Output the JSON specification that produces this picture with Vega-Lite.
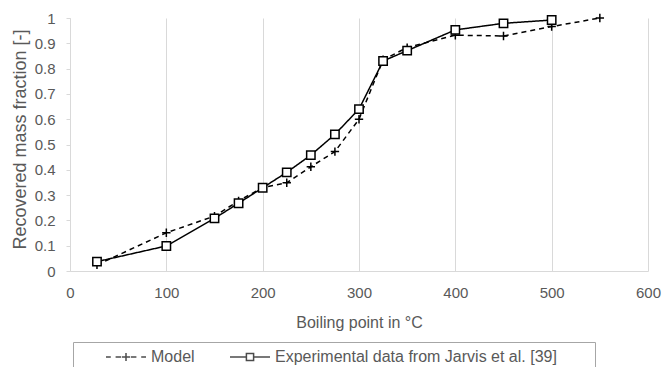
{
  "$schema": "https://vega.github.io/schema/vega-lite/v6.json",
  "width": 578,
  "height": 253,
  "autosize": {"type": "none"},
  "padding": {"left": 70, "top": 18, "right": 15, "bottom": 96},
  "background": "white",
  "config": {
    "font": "Liberation Sans",
    "view": {"stroke": null}
  },
  "data": {
    "values": [
      {"series": "Model", "boiling_point": 28, "fraction": 0.024},
      {"series": "Model", "boiling_point": 100, "fraction": 0.151},
      {"series": "Model", "boiling_point": 150, "fraction": 0.217},
      {"series": "Model", "boiling_point": 175, "fraction": 0.277},
      {"series": "Model", "boiling_point": 200, "fraction": 0.33},
      {"series": "Model", "boiling_point": 225, "fraction": 0.349},
      {"series": "Model", "boiling_point": 250, "fraction": 0.412},
      {"series": "Model", "boiling_point": 275, "fraction": 0.472},
      {"series": "Model", "boiling_point": 300, "fraction": 0.6},
      {"series": "Model", "boiling_point": 325, "fraction": 0.835},
      {"series": "Model", "boiling_point": 350, "fraction": 0.883},
      {"series": "Model", "boiling_point": 400, "fraction": 0.932},
      {"series": "Model", "boiling_point": 450, "fraction": 0.929},
      {"series": "Model", "boiling_point": 500, "fraction": 0.966},
      {"series": "Model", "boiling_point": 550, "fraction": 1.0},
      {"series": "Experimental data from Jarvis et al. [39]", "boiling_point": 28, "fraction": 0.037},
      {"series": "Experimental data from Jarvis et al. [39]", "boiling_point": 100, "fraction": 0.099},
      {"series": "Experimental data from Jarvis et al. [39]", "boiling_point": 150, "fraction": 0.208},
      {"series": "Experimental data from Jarvis et al. [39]", "boiling_point": 175, "fraction": 0.268},
      {"series": "Experimental data from Jarvis et al. [39]", "boiling_point": 200, "fraction": 0.329},
      {"series": "Experimental data from Jarvis et al. [39]", "boiling_point": 225, "fraction": 0.39},
      {"series": "Experimental data from Jarvis et al. [39]", "boiling_point": 250, "fraction": 0.458},
      {"series": "Experimental data from Jarvis et al. [39]", "boiling_point": 275, "fraction": 0.54},
      {"series": "Experimental data from Jarvis et al. [39]", "boiling_point": 300, "fraction": 0.64},
      {"series": "Experimental data from Jarvis et al. [39]", "boiling_point": 325, "fraction": 0.83},
      {"series": "Experimental data from Jarvis et al. [39]", "boiling_point": 350, "fraction": 0.871},
      {"series": "Experimental data from Jarvis et al. [39]", "boiling_point": 400, "fraction": 0.953},
      {"series": "Experimental data from Jarvis et al. [39]", "boiling_point": 450, "fraction": 0.979},
      {"series": "Experimental data from Jarvis et al. [39]", "boiling_point": 500, "fraction": 0.992}
    ]
  },
  "encoding": {
    "x": {
      "field": "boiling_point",
      "type": "quantitative",
      "scale": {"domain": [0, 600], "nice": false, "zero": false},
      "axis": {
        "title": "Boiling point in °C",
        "values": [0, 100, 200, 300, 400, 500, 600],
        "grid": true,
        "gridColor": "#d9d9d9",
        "gridWidth": 1,
        "ticks": false,
        "domainColor": "#d9d9d9",
        "domainWidth": 1,
        "labelFlush": false,
        "labelPadding": 14,
        "labelFontSize": 15,
        "labelColor": "#595959",
        "titleFontSize": 16,
        "titleFontWeight": "normal",
        "titleColor": "#595959",
        "titlePadding": 14
      }
    },
    "y": {
      "field": "fraction",
      "type": "quantitative",
      "scale": {"domain": [0, 1], "nice": false},
      "axis": {
        "title": "Recovered mass fraction [-]",
        "values": [0, 0.1, 0.2, 0.3, 0.4, 0.5, 0.6, 0.7, 0.8, 0.9, 1],
        "format": "~g",
        "grid": false,
        "ticks": true,
        "tickSize": 4,
        "tickColor": "#d9d9d9",
        "domainColor": "#d9d9d9",
        "labelFlush": false,
        "labelPadding": 11,
        "labelFontSize": 15,
        "labelColor": "#595959",
        "titleFontSize": 18,
        "titleFontWeight": "normal",
        "titleColor": "#595959",
        "titlePadding": 5,
        "titleY": 121
      }
    }
  },
  "layer": [
    {
      "mark": {"type": "line", "color": "black", "strokeWidth": 1.5},
      "encoding": {
        "strokeDash": {
          "field": "series",
          "type": "nominal",
          "scale": {"domain": ["Model", "Experimental data from Jarvis et al. [39]"], "range": [[5, 4], [1, 0]]},
          "legend": null
        }
      }
    },
    {
      "mark": {"type": "point", "filled": true, "fill": "white", "stroke": "black", "strokeWidth": 1.5, "size": 70, "opacity": 1},
      "encoding": {
        "shape": {
          "field": "series",
          "type": "nominal",
          "scale": {"domain": ["Model", "Experimental data from Jarvis et al. [39]"], "range": ["M-1,0H1M0,-1V1", "square"]},
          "legend": null
        }
      }
    },
    {
      "mark": {"type": "point", "filled": true, "fill": "white", "stroke": "black", "strokeWidth": 1.5, "size": 0},
      "encoding": {
        "shape": {
          "field": "series",
          "type": "nominal",
          "scale": {
            "domain": ["Model", "Experimental data from Jarvis et al. [39]"],
            "range": [
              "M-2.5,0H-1.9M-1.3,0H-0.6M-0.5,0H0.5M0,-0.5V0.5M0.6,0H1.3M1.9,0H2.5",
              "M-2.5,0H-0.45M0.45,0H2.5M-0.45,-0.45H0.45V0.45H-0.45Z"
            ]
          },
          "legend": {
            "title": " ",
            "titleOrient": "left",
            "titleFontSize": 16,
            "titlePadding": 38,
            "orient": "none",
            "legendX": 3,
            "legendY": 324,
            "direction": "horizontal",
            "columns": 2,
            "strokeColor": "#a6a6a6",
            "padding": 6,
            "symbolSize": 256,
            "labelFontSize": 16,
            "labelColor": "#595959",
            "labelOffset": 16,
            "labelLimit": 0,
            "columnPadding": 32,
            "labelExpr": "datum.label == 'Model' ? datum.label : datum.label + '\u00a0\u00a0\u00a0\u00a0\u00a0\u00a0\u00a0\u200b'"
          }
        }
      }
    }
  ],
  "resolve": {"scale": {"shape": "independent"}, "legend": {"shape": "independent"}}
}
